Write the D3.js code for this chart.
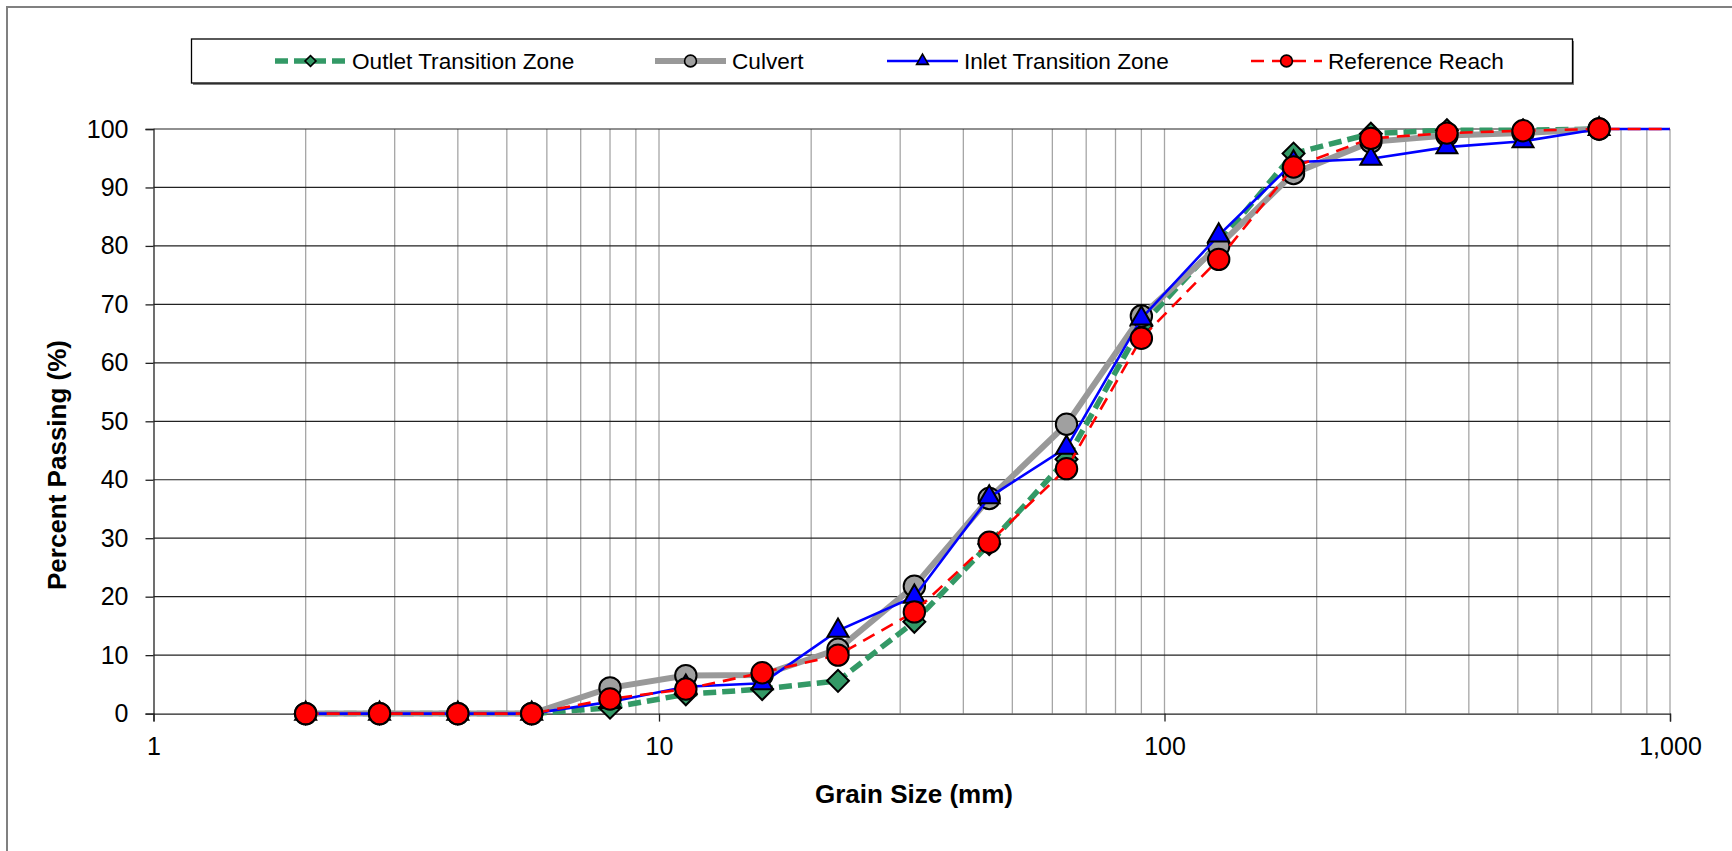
<!DOCTYPE html>
<html>
<head>
<meta charset="utf-8">
<script src="https://cdn.jsdelivr.net/npm/d3@7"></script>
<style>
  body { margin: 0; background: #fff; }
  svg { display: block; font-family: "Liberation Sans", Arial, sans-serif; }
</style>
</head>
<body>
<svg id="chart" width="1732" height="851"></svg>
<script>
// Sieve sizes (mm) and percent passing for each sampling location
const grainSizes = [2, 2.8, 4, 5.6, 8, 11.3, 16, 22.6, 32, 45, 64, 90, 128, 180, 256, 362, 512, 724, 1024];

const outletZone = [0, 0, 0, 0, 1.0, 3.3, 4.2, 5.6, 15.7, 29, 43.5, 66.3, 80.5, 95.8, 99.2, 99.8, 99.8, 100, null];
const culvert    = [0, 0, 0, 0, 4.4, 6.5, 6.6, 11, 21.8, 36.8, 49.5, 68, 80, 92.4, 97.8, 98.9, 99.3, 100, null];
const inletZone  = [0, 0, 0, 0, 2, 4.6, 5.2, 14.2, 20, 37, 45.5, 67.6, 81.8, 94.3, 94.9, 96.9, 97.9, 100, 100];
const reference  = [0, 0, 0, 0, 2.5, 4.2, 7, 10, 17.4, 29.3, 41.9, 64.2, 77.7, 93.5, 98.4, 99.3, 99.7, 100, 100];

const xTicks = [1, 10, 100, 1000];
const yTicks = [0, 10, 20, 30, 40, 50, 60, 70, 80, 90, 100];

const seriesNames = ["Outlet Transition Zone", "Culvert", "Inlet Transition Zone", "Reference Reach"];

const svg = d3.select("#chart");

// outer chart frame
svg.append("rect")
    .attr("x", 7).attr("y", 7)
    .attr("width", 1740).attr("height", 860)
    .attr("fill", "none")
    .attr("stroke", "#808080")
    .attr("stroke-width", 2);

const x = d3.scaleLog().domain([1, 1000]).range([153.5, 1670]);
const y = d3.scaleLinear().domain([0, 100]).range([713.6, 129]);

// vertical gridlines on every minor value of the log axis
const minorX = [];
for (let dec = 1; dec < 1000; dec *= 10) {
    for (let k = 2; k <= 10; k++) minorX.push(dec * k);
}
svg.append("g")
    .selectAll("line")
    .data(minorX)
    .enter()
    .append("line")
    .attr("x1", d => x(d)).attr("x2", d => x(d))
    .attr("y1", y(0)).attr("y2", y(100))
    .attr("stroke", "#a6a6a6")
    .attr("stroke-width", 1.3);

// horizontal gridlines
svg.append("g")
    .selectAll("line")
    .data(yTicks.slice(1))
    .enter()
    .append("line")
    .attr("x1", x(1)).attr("x2", x(1000))
    .attr("y1", d => y(d)).attr("y2", d => y(d))
    .attr("stroke", "#222")
    .attr("stroke-width", 1.2);

// axes
const yAxis = svg.append("g")
    .attr("transform", `translate(${x(1)},0)`)
    .call(d3.axisLeft(y).tickValues(yTicks).tickSize(8).tickPadding(17));

const xAxis = svg.append("g")
    .attr("transform", `translate(0,${y(0)})`)
    .call(d3.axisBottom(x).tickValues(xTicks).tickFormat(d3.format(",")).tickSize(8).tickPadding(16));

[yAxis, xAxis].forEach(g => {
    g.select(".domain").attr("stroke", "#222").attr("stroke-width", 1.3);
    g.selectAll(".tick line").attr("stroke", "#222").attr("stroke-width", 1.3);
    g.selectAll("text").attr("font-size", 25).attr("fill", "#000")
        .attr("font-family", "'Liberation Sans', Arial, sans-serif");
});

// axis titles
svg.append("text")
    .attr("x", 914)
    .attr("y", 803)
    .attr("text-anchor", "middle")
    .attr("font-size", 26)
    .attr("font-weight", "bold")
    .text("Grain Size (mm)");

svg.append("text")
    .attr("transform", "translate(66,465) rotate(-90)")
    .attr("text-anchor", "middle")
    .attr("font-size", 26)
    .attr("font-weight", "bold")
    .text("Percent Passing (%)");

// clip so the last segment stops at 1,000 mm
svg.append("clipPath").attr("id", "plotClip")
    .append("rect")
    .attr("x", x(1)).attr("y", 0)
    .attr("width", x(1000) - x(1)).attr("height", 851);

const styles = [
    { values: outletZone, color: "#339966", width: 5.5, dash: "13,6", marker: "diamond", fill: "#339966" },
    { values: culvert,    color: "#999999", width: 6,   dash: null,   marker: "circle",  fill: "#a0a0a0" },
    { values: inletZone,  color: "#0000ff", width: 2.6, dash: null,   marker: "triangle", fill: "#0000ff" },
    { values: reference,  color: "#ff0000", width: 2.6, dash: "13,8", marker: "circle",  fill: "#ff0000" }
];

function markerPath(type, big) {
    if (type === "diamond") return d3.symbol(d3.symbolSquare, big ? 240 : 60)();
    if (type === "triangle") return d3.symbol(d3.symbolTriangle, big ? 190 : 60)();
    return d3.symbol(d3.symbolCircle, big ? 360 : 110)();
}

const line = d3.line()
    .defined(d => d.v !== null)
    .x(d => x(d.g))
    .y(d => y(d.v));

styles.forEach(s => {
    const pts = grainSizes.map((g, i) => ({ g: g, v: s.values[i] }));
    const g = svg.append("g");

    g.append("path")
        .datum(pts)
        .attr("clip-path", "url(#plotClip)")
        .attr("fill", "none")
        .attr("stroke", s.color)
        .attr("stroke-width", s.width)
        .attr("stroke-dasharray", s.dash)
        .attr("d", line);

    g.selectAll(".mark")
        .data(pts.filter(d => d.v !== null && d.g <= 1000))
        .enter()
        .append("path")
        .attr("class", "mark")
        .attr("transform", d => `translate(${x(d.g)},${y(d.v)})` + (s.marker === "diamond" ? " rotate(45)" : ""))
        .attr("d", markerPath(s.marker, true))
        .attr("fill", s.fill)
        .attr("stroke", "#000")
        .attr("stroke-width", 2);
});

// legend
const legendTop = 39, legendBottom = 83;
svg.append("rect")
    .attr("x", 193).attr("y", legendTop + 2)
    .attr("width", 1381).attr("height", legendBottom - legendTop)
    .attr("fill", "#808080");
svg.append("rect")
    .attr("x", 191.5).attr("y", legendTop)
    .attr("width", 1381).attr("height", legendBottom - legendTop)
    .attr("fill", "#fff")
    .attr("stroke", "#000")
    .attr("stroke-width", 1.3);

const legendX = [275, 655, 887, 1251];
const legendY = 61;

styles.forEach((s, i) => {
    const lg = svg.append("g").attr("transform", `translate(${legendX[i]},${legendY})`);
    lg.append("line")
        .attr("x1", 0).attr("x2", 71)
        .attr("stroke", s.color)
        .attr("stroke-width", s.width)
        .attr("stroke-dasharray", s.dash);
    lg.append("path")
        .attr("transform", "translate(35.5,0)" + (s.marker === "diamond" ? " rotate(45)" : ""))
        .attr("d", markerPath(s.marker, false))
        .attr("fill", s.fill)
        .attr("stroke", "#000")
        .attr("stroke-width", 1.6);
    lg.append("text")
        .attr("x", 77)
        .attr("dy", "0.35em")
        .attr("font-size", 22.6)
        .text(seriesNames[i]);
});
</script>
</body>
</html>
